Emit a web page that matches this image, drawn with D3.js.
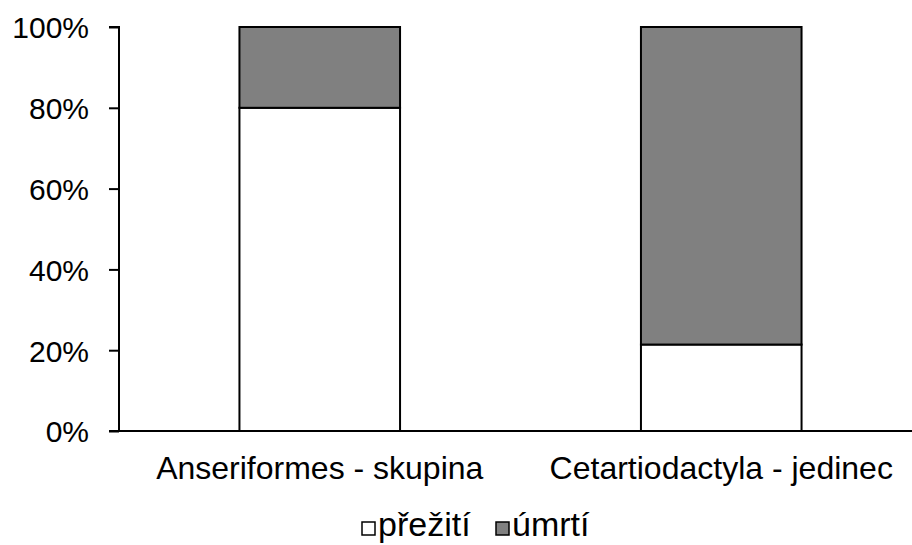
<!DOCTYPE html>
<html>
<head>
<meta charset="utf-8">
<script src="https://cdn.jsdelivr.net/npm/d3@7"></script>
<style>
  body { margin: 0; background: #fff; }
  text { font-family: "Liberation Sans", Arial, sans-serif; fill: #000; }
</style>
</head>
<body>
<div class="container"></div>
<script>
var categories = ["Anseriformes - skupina", "Cetartiodactyla - jedinec"];
var survived = [80, 21.4];   // přežití
var died = [20, 78.6];       // úmrtí
var seriesNames = ["přežití", "úmrtí"];
var seriesColors = ["#ffffff", "#808080"];
var yTicks = [0, 20, 40, 60, 80, 100];

var width = 912,
    height = 545,
    margin = {top: 27, right: -10, bottom: 114, left: 119};

var svg = d3.select("div.container").append("svg")
    .attr("width", width)
    .attr("height", height);

var x = d3.scaleBand()
    .domain(categories)
    .range([margin.left, width - margin.right])
    .paddingInner(0.6)
    .paddingOuter(0.3);

var y = d3.scaleLinear()
    .domain([0, 100])
    .range([height - margin.bottom, margin.top]);

// stack the two series
var rows = categories.map(function(c, i) {
    return {cat: c, "přežití": survived[i], "úmrtí": died[i]};
});
var stacked = d3.stack().keys(seriesNames)(rows);

var layer = svg.selectAll(".layer")
    .data(stacked)
    .enter().append("g")
    .attr("class", "layer")
    .attr("fill", function(d, i) { return seriesColors[i]; });

layer.selectAll("rect")
    .data(function(d) { return d; })
    .enter().append("rect")
    .attr("x", function(d) { return x(d.data.cat); })
    .attr("y", function(d) { return y(d[1]); })
    .attr("width", x.bandwidth())
    .attr("height", function(d) { return y(d[0]) - y(d[1]); })
    .attr("stroke", "#000")
    .attr("stroke-width", 2);

// y axis
var yAxis = svg.append("g")
    .attr("transform", "translate(" + margin.left + ",0)")
    .call(d3.axisLeft(y).tickValues(yTicks).tickSize(10).tickPadding(20)
        .tickFormat(function(d) { return d + "%"; }));
yAxis.select(".domain").attr("stroke", "#000").attr("stroke-width", 2)
    .attr("d", "M-10," + y(100) + "H0V" + y(0));
yAxis.selectAll(".tick line").attr("stroke", "#000").attr("stroke-width", 2);
yAxis.selectAll(".tick text")
    .style("font-size", "30px")
    .attr("font-family", null)
    .attr("dy", "0.36em");

// x axis line
svg.append("line")
    .attr("x1", margin.left - 10)
    .attr("x2", width)
    .attr("y1", y(0))
    .attr("y2", y(0))
    .attr("stroke", "#000")
    .attr("stroke-width", 2);

// category labels
svg.selectAll(".cat-label")
    .data(categories)
    .enter().append("text")
    .attr("class", "cat-label")
    .attr("x", function(d) { return x(d) + x.bandwidth() / 2; })
    .attr("y", 479)
    .attr("text-anchor", "middle")
    .style("font-size", "32px")
    .text(function(d) { return d; });

// legend
var legendX = [362, 496];
var legend = svg.selectAll(".legend")
    .data(seriesNames)
    .enter().append("g")
    .attr("class", "legend")
    .attr("transform", function(d, i) { return "translate(" + legendX[i] + ",522)"; });

legend.append("rect")
    .attr("width", 13)
    .attr("height", 13)
    .attr("fill", function(d, i) { return seriesColors[i]; })
    .attr("stroke", "#000")
    .attr("stroke-width", 1.5);

legend.append("text")
    .attr("x", 16)
    .attr("y", 14)
    .style("font-size", "34px")
    .text(function(d) { return d; });
</script>
</body>
</html>
